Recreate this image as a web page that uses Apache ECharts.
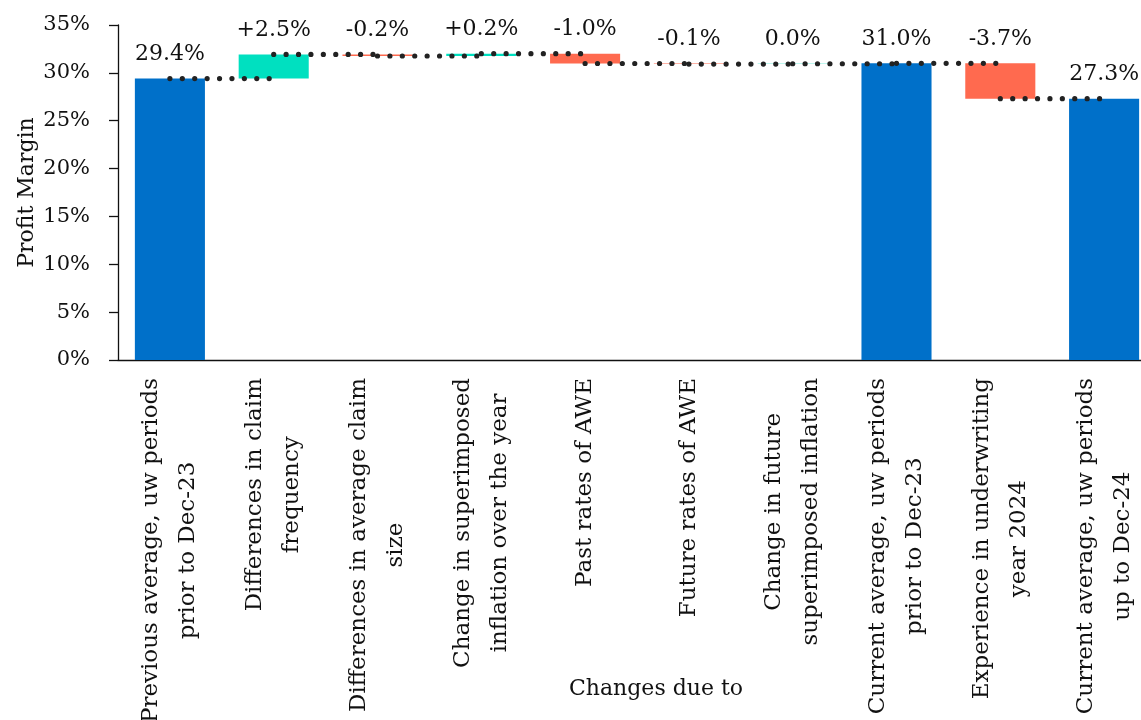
<!DOCTYPE html>
<html>
<head>
<meta charset="utf-8">
<script src="https://cdn.jsdelivr.net/npm/echarts@6/dist/echarts.min.js"></script>
<style>
  html, body { margin: 0; padding: 0; background: #fff; }
  #chart { width: 1141px; height: 720px; }
</style>
</head>
<body>
<div id="chart"></div>
<script>
// categories split into the two label lines used on the axis
const categories = [
  ['Previous average, uw periods', 'prior to Dec-23'],
  ['Differences in claim', 'frequency'],
  ['Differences in average claim', 'size'],
  ['Change in superimposed', 'inflation over the year'],
  ['Past rates of AWE'],
  ['Future rates of AWE'],
  ['Change in future', 'superimposed inflation'],
  ['Current average, uw periods', 'prior to Dec-23'],
  ['Experience in underwriting', 'year 2024'],
  ['Current average, uw periods', 'up to Dec-24']
]
// 'total' bars start at zero, 'delta' bars float from the previous level
const kinds = ['total', 'delta', 'delta', 'delta', 'delta', 'delta', 'delta', 'total', 'delta', 'total']
const values = [29.4, 2.53, -0.17, 0.24, -1.02, -0.06, 0.03, 31.0, -3.7, 27.3]
const yTicks = [0, 5, 10, 15, 20, 25, 30, 35]

const BLUE = '#0070C9'
const GREEN = '#00E0C0'
const RED = '#FF6A4F'
const FONT = 'DejaVu Serif'

// waterfall table built from the values
const levels = []
const base = []
const height = []
let prev = 0
values.forEach((v, i) => {
  if (kinds[i] === 'total') {
    levels.push(v)
    base.push(0)
    height.push(v)
  } else {
    const lv = prev + v
    levels.push(lv)
    base.push(Math.min(prev, lv))
    height.push(Math.abs(v))
  }
  prev = levels[i]
})

function labelText(i) {
  const v = values[i]
  const s = Math.abs(v).toFixed(1)
  if (kinds[i] === 'total') return v.toFixed(1) + '%'
  if (s === '0.0') return '0.0%'
  return (v > 0 ? '+' : '-') + s + '%'
}

const chart = echarts.init(document.getElementById('chart'))

chart.setOption({
  animation: false,
  grid: {
    left: 118,
    right: -15,
    top: 25,
    bottom: 360,
    outerBoundsMode: 'none'
  },
  xAxis: {
    type: 'category',
    data: categories.map(c => c.join('\n')),
    name: 'Changes due to',
    nameLocation: 'middle',
    nameGap: 318,
    nameMoveOverlap: false,
    nameTextStyle: {
      fontFamily: FONT,
      fontSize: 22,
      color: '#111',
      padding: [0, 0, 0, 38]
    },
    axisLine: { lineStyle: { color: '#111', width: 1.3 } },
    axisTick: { length: 9, interval: 0, lineStyle: { color: '#111', width: 1.3 } },
    axisLabel: {
      interval: 0,
      rotate: 90,
      margin: 18,
      formatter: function (val) {
        return val.split('\n').map(l => '{c|' + l + '}').join('\n')
      },
      rich: {
        c: {
          align: 'center',
          fontFamily: FONT,
          fontSize: 23,
          lineHeight: 37,
          color: '#111'
        }
      }
    }
  },
  yAxis: {
    type: 'value',
    min: 0,
    max: 35,
    interval: 5,
    name: 'Profit Margin',
    nameLocation: 'middle',
    nameGap: 80,
    nameMoveOverlap: false,
    nameTextStyle: { fontFamily: FONT, fontSize: 22, color: '#111' },
    axisLine: { show: true, lineStyle: { color: '#111', width: 1.3 } },
    axisTick: { show: true, length: 9, lineStyle: { color: '#111', width: 1.3 } },
    splitLine: { show: false },
    axisLabel: {
      margin: 28,
      fontFamily: FONT,
      fontSize: 21,
      color: '#111',
      formatter: function (v) {
        return yTicks.indexOf(v) >= 0 ? v + '%' : ''
      }
    }
  },
  series: [
    {
      name: 'base',
      type: 'bar',
      stack: 'wf',
      silent: true,
      barWidth: '67.5%',
      itemStyle: { color: 'transparent' },
      data: base
    },
    {
      name: 'value',
      type: 'bar',
      stack: 'wf',
      barWidth: '67.5%',
      data: height.map((h, i) => ({
        value: h,
        itemStyle: {
          color: kinds[i] === 'total' ? BLUE : (values[i] >= 0 ? GREEN : RED)
        }
      })),
      label: {
        show: true,
        position: 'top',
        distance: 13,
        fontFamily: FONT,
        fontSize: 22,
        color: '#111',
        formatter: p => labelText(p.dataIndex)
      }
    },
    {
      name: 'connector',
      type: 'custom',
      silent: true,
      z: 10,
      encode: { x: 0, y: 1 },
      data: levels.slice(0, levels.length - 1).map((v, i) => [i, v]),
      renderItem: function (params, api) {
        const i = api.value(0)
        const v = api.value(1)
        const p1 = api.coord([i, v])
        const p2 = api.coord([i + 1, v])
        return {
          type: 'line',
          shape: { x1: p1[0], y1: p1[1], x2: p2[0], y2: p2[1] },
          style: {
            stroke: '#222',
            lineWidth: 5.2,
            lineCap: 'round',
            lineDash: [0.01, 12.4]
          }
        }
      }
    }
  ]
})
</script>
</body>
</html>
